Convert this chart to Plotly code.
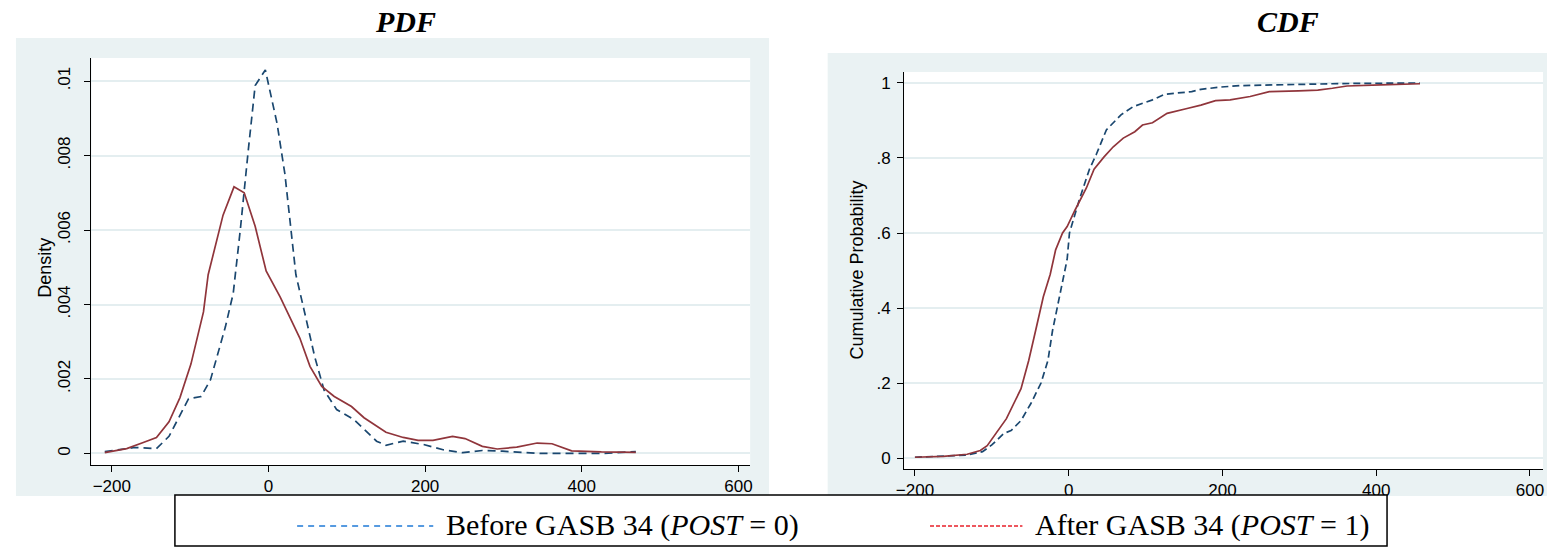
import plotly.graph_objects as go

# ---------------- data ----------------
pdf_before_x = [-209, -171, -143, -127, -102, -86, -74, -55, -45, -36, -26, -17, -4, 11, 21, 35, 46, 59, 71, 87,
                109, 122, 138, 150, 172, 198, 223, 248, 273, 299, 324, 349, 393, 425, 469]
pdf_before_y = [0.00005, 0.00016, 0.00013, 0.00046, 0.00147, 0.00153, 0.00198, 0.0034, 0.0043, 0.0060, 0.0081,
                0.00988, 0.0103, 0.00886, 0.0075, 0.0048, 0.0038, 0.0026, 0.0017, 0.00118,
                0.00091, 0.00064, 0.00033, 0.00022, 0.00033, 0.00024, 0.0001, 0.00002, 0.00008, 0.00006,
                0.00003, 0.0, 0.0, 0.0, 0.00005]

pdf_after_x = [-209, -181, -159, -143, -127, -113, -99, -83, -77, -58, -44, -31, -17, -3, 15, 40, 53, 68, 84,
               106, 122, 134, 150, 172, 191, 210, 235, 251, 273, 292, 317, 343, 362, 387, 425, 469]
pdf_after_y = [0.00002, 0.00013, 0.0003, 0.00043, 0.00085, 0.0015, 0.0024, 0.0038, 0.0048, 0.0064, 0.00716,
               0.0070, 0.0061, 0.0049, 0.0042, 0.0031, 0.00234, 0.0018, 0.00153,
               0.00126, 0.00096, 0.0008, 0.00057, 0.00043, 0.00035, 0.00035, 0.00046, 0.0004, 0.00019,
               0.00012, 0.00017, 0.00028, 0.00026, 0.00007, 0.00004, 0.00003]

cdf_before_x = [-200, -132, -112, -100, -84, -75, -62, -49, -36, -27, -21, -14, -8, -2, 1, 14, 27, 36, 49, 68,
                84, 109, 125, 160, 172, 197, 223, 261, 293, 343, 381, 457]
cdf_before_y = [0.002, 0.008, 0.017, 0.035, 0.066, 0.073, 0.10, 0.146, 0.20, 0.26, 0.34, 0.41, 0.475, 0.53,
                0.60, 0.69, 0.77, 0.81, 0.875, 0.915, 0.937, 0.955, 0.97, 0.977, 0.983, 0.989, 0.993,
                0.995, 0.997, 0.998, 0.999, 1.0]

cdf_after_x = [-200, -163, -132, -115, -106, -93, -81, -62, -52, -43, -33, -24, -17, -8, -2, 8, 23, 33, 46, 58,
               71, 86, 96, 109, 128, 154, 172, 191, 210, 236, 261, 299, 324, 343, 362, 406, 457]
cdf_after_y = [0.002, 0.0045, 0.01, 0.02, 0.033, 0.069, 0.105, 0.185, 0.26, 0.34, 0.43, 0.49, 0.555, 0.60,
               0.617, 0.66, 0.72, 0.77, 0.803, 0.83, 0.853, 0.87, 0.888, 0.894, 0.919, 0.932, 0.941,
               0.953, 0.955, 0.964, 0.977, 0.979, 0.981, 0.986, 0.992, 0.995, 0.998]

x_ticks = [-200, 0, 200, 400, 600]
pdf_y_ticks = [0, 0.002, 0.004, 0.006, 0.008, 0.01]
pdf_y_labels = ["0", ".002", ".004", ".006", ".008", ".01"]
cdf_y_ticks = [0, 0.2, 0.4, 0.6, 0.8, 1.0]
cdf_y_labels = ["0", ".2", ".4", ".6", ".8", "1"]

label_before = "Before GASB 34 (<i>POST</i> = 0)"
label_after = "After GASB 34 (<i>POST</i> = 1)"

# ---------------- layout helpers ----------------
W, H = 1549, 548
def px(x):
    return x / W
def py(y):
    return 1 - y / H

NAVY = "#1a476f"
MAROON = "#90353b"
BG = "#eaf2f3"
GRID = "#e4eef0"
SANS = "Liberation Sans, Arial, sans-serif"
SERIF = "Liberation Serif, Times New Roman, serif"

fig = go.Figure()

fig.add_trace(go.Scatter(x=pdf_before_x, y=pdf_before_y, mode="lines", xaxis="x", yaxis="y",
                         line=dict(color=NAVY, width=1.7, dash="8px,5px"), showlegend=False))
fig.add_trace(go.Scatter(x=pdf_after_x, y=pdf_after_y, mode="lines", xaxis="x", yaxis="y",
                         line=dict(color=MAROON, width=1.7), showlegend=False))
fig.add_trace(go.Scatter(x=cdf_before_x, y=cdf_before_y, mode="lines", xaxis="x2", yaxis="y2",
                         line=dict(color=NAVY, width=1.7, dash="7px,4px"), showlegend=False))
fig.add_trace(go.Scatter(x=cdf_after_x, y=cdf_after_y, mode="lines", xaxis="x2", yaxis="y2",
                         line=dict(color=MAROON, width=1.7), showlegend=False))

axis_common = dict(showline=True, linecolor="#000000", linewidth=1, ticks="outside", ticklen=6,
                   tickcolor="#000000", tickwidth=1, zeroline=False,
                   tickfont=dict(family=SANS, size=17, color="#000000"))

fig.update_layout(
    width=W, height=H, autosize=False,
    margin=dict(l=0, r=0, t=0, b=0),
    paper_bgcolor="white", plot_bgcolor="rgba(0,0,0,0)",
    showlegend=False,
    xaxis=dict(domain=[px(84), px(747)], range=[-226, 615], tickvals=x_ticks, showgrid=False,
               anchor="y", ticklabelstandoff=0, **axis_common),
    yaxis=dict(domain=[py(465), py(58)], range=[-0.00031, 0.01062], tickvals=pdf_y_ticks,
               ticktext=pdf_y_labels, tickangle=-90, showgrid=True, gridcolor=GRID, gridwidth=1.5,
               anchor="x", ticklabelstandoff=8, **axis_common),
    xaxis2=dict(domain=[px(902), px(1545)], range=[-214, 617], tickvals=x_ticks, showgrid=False,
                anchor="y2", ticklabelstandoff=0, **axis_common),
    yaxis2=dict(domain=[py(469), py(72)], range=[-0.0293, 1.0293], tickvals=cdf_y_ticks,
                ticktext=cdf_y_labels, showgrid=True, gridcolor=GRID, gridwidth=1.5,
                anchor="x2", ticklabelstandoff=3, **axis_common),
)

shapes = [
    # panel backgrounds
    dict(type="rect", xref="paper", yref="paper", x0=px(8), x1=px(766), y0=py(496), y1=py(38),
         fillcolor=BG, line=dict(width=0), layer="below"),
    dict(type="rect", xref="paper", yref="paper", x0=px(825), x1=px(1549), y0=py(496), y1=py(53),
         fillcolor=BG, line=dict(width=0), layer="below"),
    # plot areas
    dict(type="rect", xref="paper", yref="paper", x0=px(84), x1=px(747), y0=py(465), y1=py(58),
         fillcolor="white", line=dict(width=0), layer="below"),
    dict(type="rect", xref="paper", yref="paper", x0=px(902), x1=px(1545), y0=py(469), y1=py(72),
         fillcolor="white", line=dict(width=0), layer="below"),
    # legend box
    dict(type="rect", xref="paper", yref="paper", x0=px(168), x1=px(1388), y0=py(546), y1=py(495),
         fillcolor="white", line=dict(color="#000000", width=1.5), layer="above"),
    # legend samples
    dict(type="line", xref="paper", yref="paper", x0=px(291), x1=px(428), y0=py(526), y1=py(526),
         line=dict(color="#1f7ad6", width=1.6, dash="6px,5px"), layer="above"),
    dict(type="line", xref="paper", yref="paper", x0=px(928), x1=px(1021), y0=py(526), y1=py(526),
         line=dict(color="#e8202a", width=1.6, dash="4px,2px"), layer="above"),
]
fig.update_layout(shapes=shapes)

annotations = [
    dict(text="<b><i>PDF</i></b>", x=px(400), y=py(21), xref="paper", yref="paper", showarrow=False,
         xanchor="center", yanchor="middle", font=dict(family=SERIF, size=30, color="#000000")),
    dict(text="<b><i>CDF</i></b>", x=px(1288), y=py(21), xref="paper", yref="paper", showarrow=False,
         xanchor="center", yanchor="middle", font=dict(family=SERIF, size=30, color="#000000")),
    dict(text="Density", x=px(37), y=py(268), xref="paper", yref="paper", showarrow=False, textangle=-90,
         xanchor="center", yanchor="middle", font=dict(family=SANS, size=18, color="#000000")),
    dict(text="Cumulative Probability", x=px(855), y=py(270), xref="paper", yref="paper", showarrow=False,
         textangle=-90, xanchor="center", yanchor="middle", font=dict(family=SANS, size=18, color="#000000")),
    dict(text=label_before, x=px(439), y=py(525), xref="paper", yref="paper", showarrow=False,
         xanchor="left", yanchor="middle", font=dict(family=SERIF, size=30, color="#000000")),
    dict(text=label_after, x=px(1032), y=py(525), xref="paper", yref="paper", showarrow=False,
         xanchor="left", yanchor="middle", font=dict(family=SERIF, size=30, color="#000000")),
]
fig.update_layout(annotations=annotations)

fig.write_html(
    "out.html",
    config={"displayModeBar": False},
    post_script="document.body.style.margin='0';document.body.style.padding='0';"
                "document.documentElement.style.overflow='hidden';document.body.style.overflow='hidden';",
)
